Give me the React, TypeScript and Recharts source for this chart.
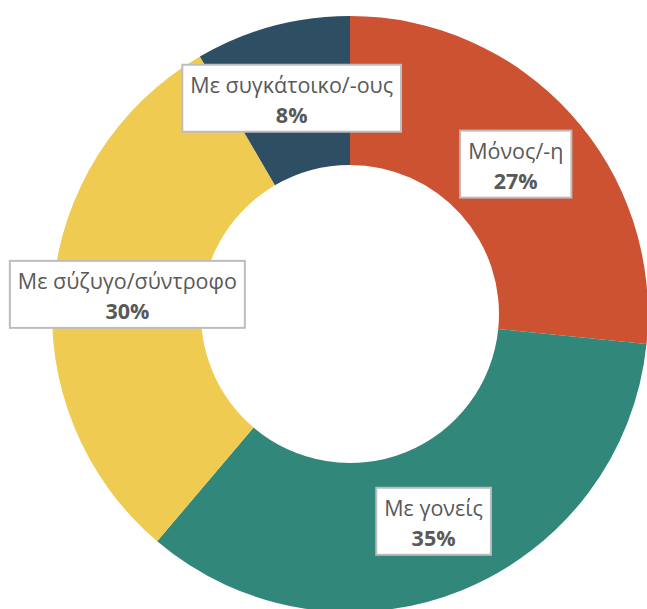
import React from 'react'
import { PieChart, Pie, Cell } from 'recharts'

const livingWith = ['Μόνος/-η', 'Με γονείς', 'Με σύζυγο/σύντροφο', 'Με συγκάτοικο/-ους']
const shares = [26.6, 34.6, 30.4, 8.4]
const sliceColors = ['#CC5232', '#31877A', '#F0CB52', '#2E4F63']

const data = livingWith.map((name, i) => ({ name, value: shares[i] }))

const FONT = '"Open Sans", "Noto Sans", sans-serif'
const FONT_SIZE = 21.5
const RADIAN = Math.PI / 180

let canvas: HTMLCanvasElement | null = null
function textWidth(text: string, font: string) {
  if (!canvas) canvas = document.createElement('canvas')
  const ctx = canvas.getContext('2d')
  if (!ctx) return text.length * 11
  ctx.font = font
  return ctx.measureText(text).width
}

// boxed label in the middle of the ring
function renderLabel(props: any) {
  const { cx, cy, midAngle, innerRadius, outerRadius, name, value } = props
  const r = (innerRadius + outerRadius) / 2
  const x = cx + r * Math.cos(-midAngle * RADIAN)
  const y = cy + r * Math.sin(-midAngle * RADIAN)
  const pct = `${Math.round(value)}%`
  const w =
    Math.max(
      textWidth(name, `${FONT_SIZE}px ${FONT}`),
      textWidth(pct, `bold ${FONT_SIZE}px ${FONT}`)
    ) + 16
  const h = 67
  return (
    <g>
      <rect x={x - w / 2} y={y - h / 2} width={w} height={h} fill="#ffffff" stroke="#BDBDBD" strokeWidth={2} />
      <text x={x} y={y - h / 2 + 28} textAnchor="middle" fill="#595959" fontSize={FONT_SIZE} fontFamily={FONT}>
        {name}
      </text>
      <text x={x} y={y - h / 2 + 58} textAnchor="middle" fill="#595959" fontSize={FONT_SIZE} fontWeight={700} fontFamily={FONT}>
        {pct}
      </text>
    </g>
  )
}

export default function App() {
  return (
    <div style={{ position: 'absolute', left: 0, top: 0, background: '#fff' }}>
      <PieChart width={647} height={609} margin={{ top: 0, right: 0, bottom: 0, left: 0 }}>
        <Pie
          data={data}
          dataKey="value"
          nameKey="name"
          cx={350}
          cy={314}
          innerRadius={149}
          outerRadius={298}
          startAngle={90}
          endAngle={-270}
          stroke="none"
          labelLine={false}
          label={renderLabel}
          isAnimationActive={false}
        >
          {data.map((d, i) => (
            <Cell key={d.name} fill={sliceColors[i]} />
          ))}
        </Pie>
      </PieChart>
    </div>
  )
}
